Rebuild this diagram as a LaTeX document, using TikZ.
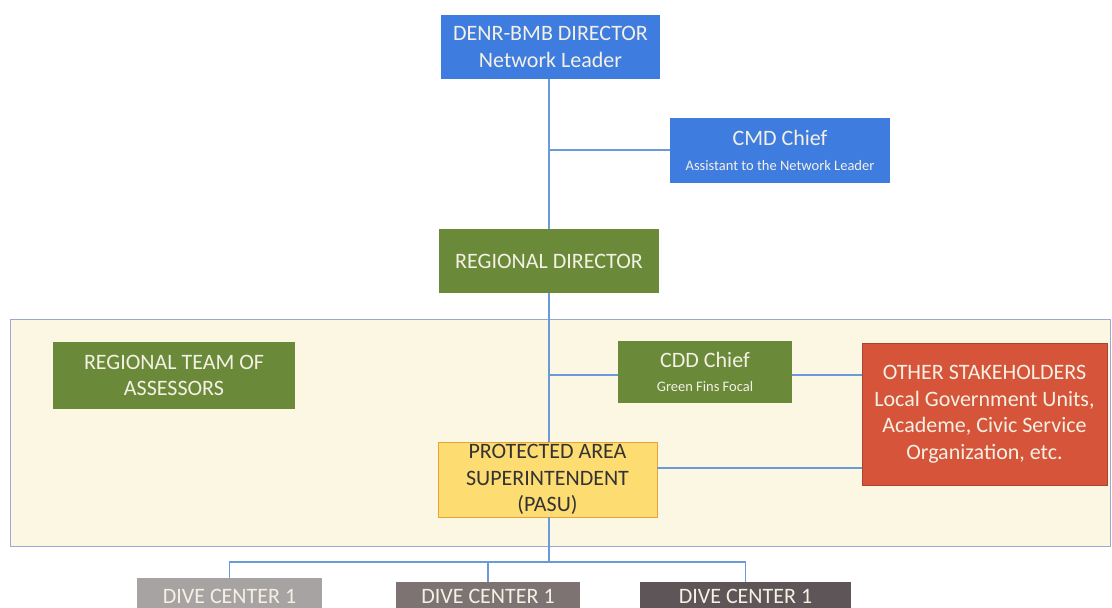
\documentclass[tikz,border=0pt]{standalone}
\usepackage{fontspec}
\setmainfont{Carlito}
\begin{document}
\begin{tikzpicture}[x=1pt,y=-1pt,
  conn/.style={draw=lineblue,line width=1.3pt},
  box/.style={draw=none,inner sep=0pt,align=center,text=boxtext,font=\fontsize{22}{26.5}\selectfont},
]
\definecolor{lineblue}{HTML}{6A9BD8}
\definecolor{boxtext}{HTML}{F4F1E4}
\definecolor{denrblue}{HTML}{3E7CE0}
\definecolor{dgreen}{HTML}{6A8A3A}
\definecolor{bandfill}{HTML}{FCF7E3}
\definecolor{bandline}{HTML}{9AAAD0}
\definecolor{pasufill}{HTML}{FDDC72}
\definecolor{pasuline}{HTML}{E8A33A}
\definecolor{redbox}{HTML}{D6553A}
\definecolor{dive1}{HTML}{A8A3A3}
\definecolor{dive2}{HTML}{7E7373}
\definecolor{dive3}{HTML}{5D5557}
\clip (0,0) rectangle (1112,608);
\fill[white] (0,0) rectangle (1112,608);
% band
\node[draw=bandline,fill=bandfill,line width=0.8pt,minimum width=1100pt,minimum height=227pt,inner sep=0pt] (band) at (560,432.5) {};
% boxes
\node[box,fill=denrblue,minimum width=219pt,minimum height=64pt] (denr) at (550.5,47) {DENR-BMB DIRECTOR\\Network Leader};
\node[box,fill=denrblue,minimum width=220pt,minimum height=65pt] (cmd) at (780,150.5) {\fontsize{22}{24}\selectfont CMD Chief\\[-2pt]{\fontsize{14.5}{16}\selectfont Assistant to the Network Leader}};
\node[box,fill=dgreen,minimum width=220pt,minimum height=64pt] (rd) at (549,261) {REGIONAL DIRECTOR};
\node[box,fill=dgreen,minimum width=242pt,minimum height=67pt] (rta) at (174,375.5) {REGIONAL TEAM OF\\ASSESSORS};
\node[box,fill=dgreen,minimum width=174pt,minimum height=62pt] (cdd) at (705,372) {\fontsize{22}{24}\selectfont CDD Chief\\[-2pt]{\fontsize{14.5}{16}\selectfont Green Fins Focal}};
\node[box,fill=redbox,draw=redbox!80!black,line width=0.6pt,minimum width=245pt,minimum height=142pt] (oth) at (984.5,414) {\raisebox{-3pt}{\begin{tabular}{@{}c@{}}OTHER STAKEHOLDERS\\Local Government Units,\\Academe, Civic Service\\Organization, etc.\end{tabular}}};
\node[box,fill=pasufill,draw=pasuline,line width=0.8pt,text=black!80,minimum width=219pt,minimum height=75pt] (pasu) at (547.5,479.5) {PROTECTED AREA\\SUPERINTENDENT\\(PASU)};
\node[box,fill=dive1,minimum width=185pt,minimum height=36pt] (dc1) at (229.5,596) {DIVE CENTER 1};
\node[box,fill=dive2,minimum width=184pt,minimum height=28pt] (dc2) at (488,596) {DIVE CENTER 1};
\node[box,fill=dive3,minimum width=211pt,minimum height=28pt] (dc3) at (745.5,596) {DIVE CENTER 1};
% connectors
\coordinate (j1) at (549,150);
\coordinate (j2) at (549,375);
\coordinate (j3) at (549,562);
\draw[conn] (denr.south -| j1) -- (rd.north -| j1);
\draw[conn] (j1) -- (cmd.west |- j1);
\draw[conn] (rd.south -| j2) -- (pasu.north -| j2);
\draw[conn] (j2) -- (cdd.west |- j2);
\draw[conn] (cdd.east |- j2) -- (oth.west |- j2);
\draw[conn] (pasu.east |- 0,468) -- (oth.west |- 0,468);
\draw[conn] (pasu.south -| j3) -- (j3);
\draw[conn] (dc1.north) |- (j3) -| (dc3.north);
\draw[conn] (dc2.north) -- (dc2.north |- j3);
\end{tikzpicture}
\end{document}
